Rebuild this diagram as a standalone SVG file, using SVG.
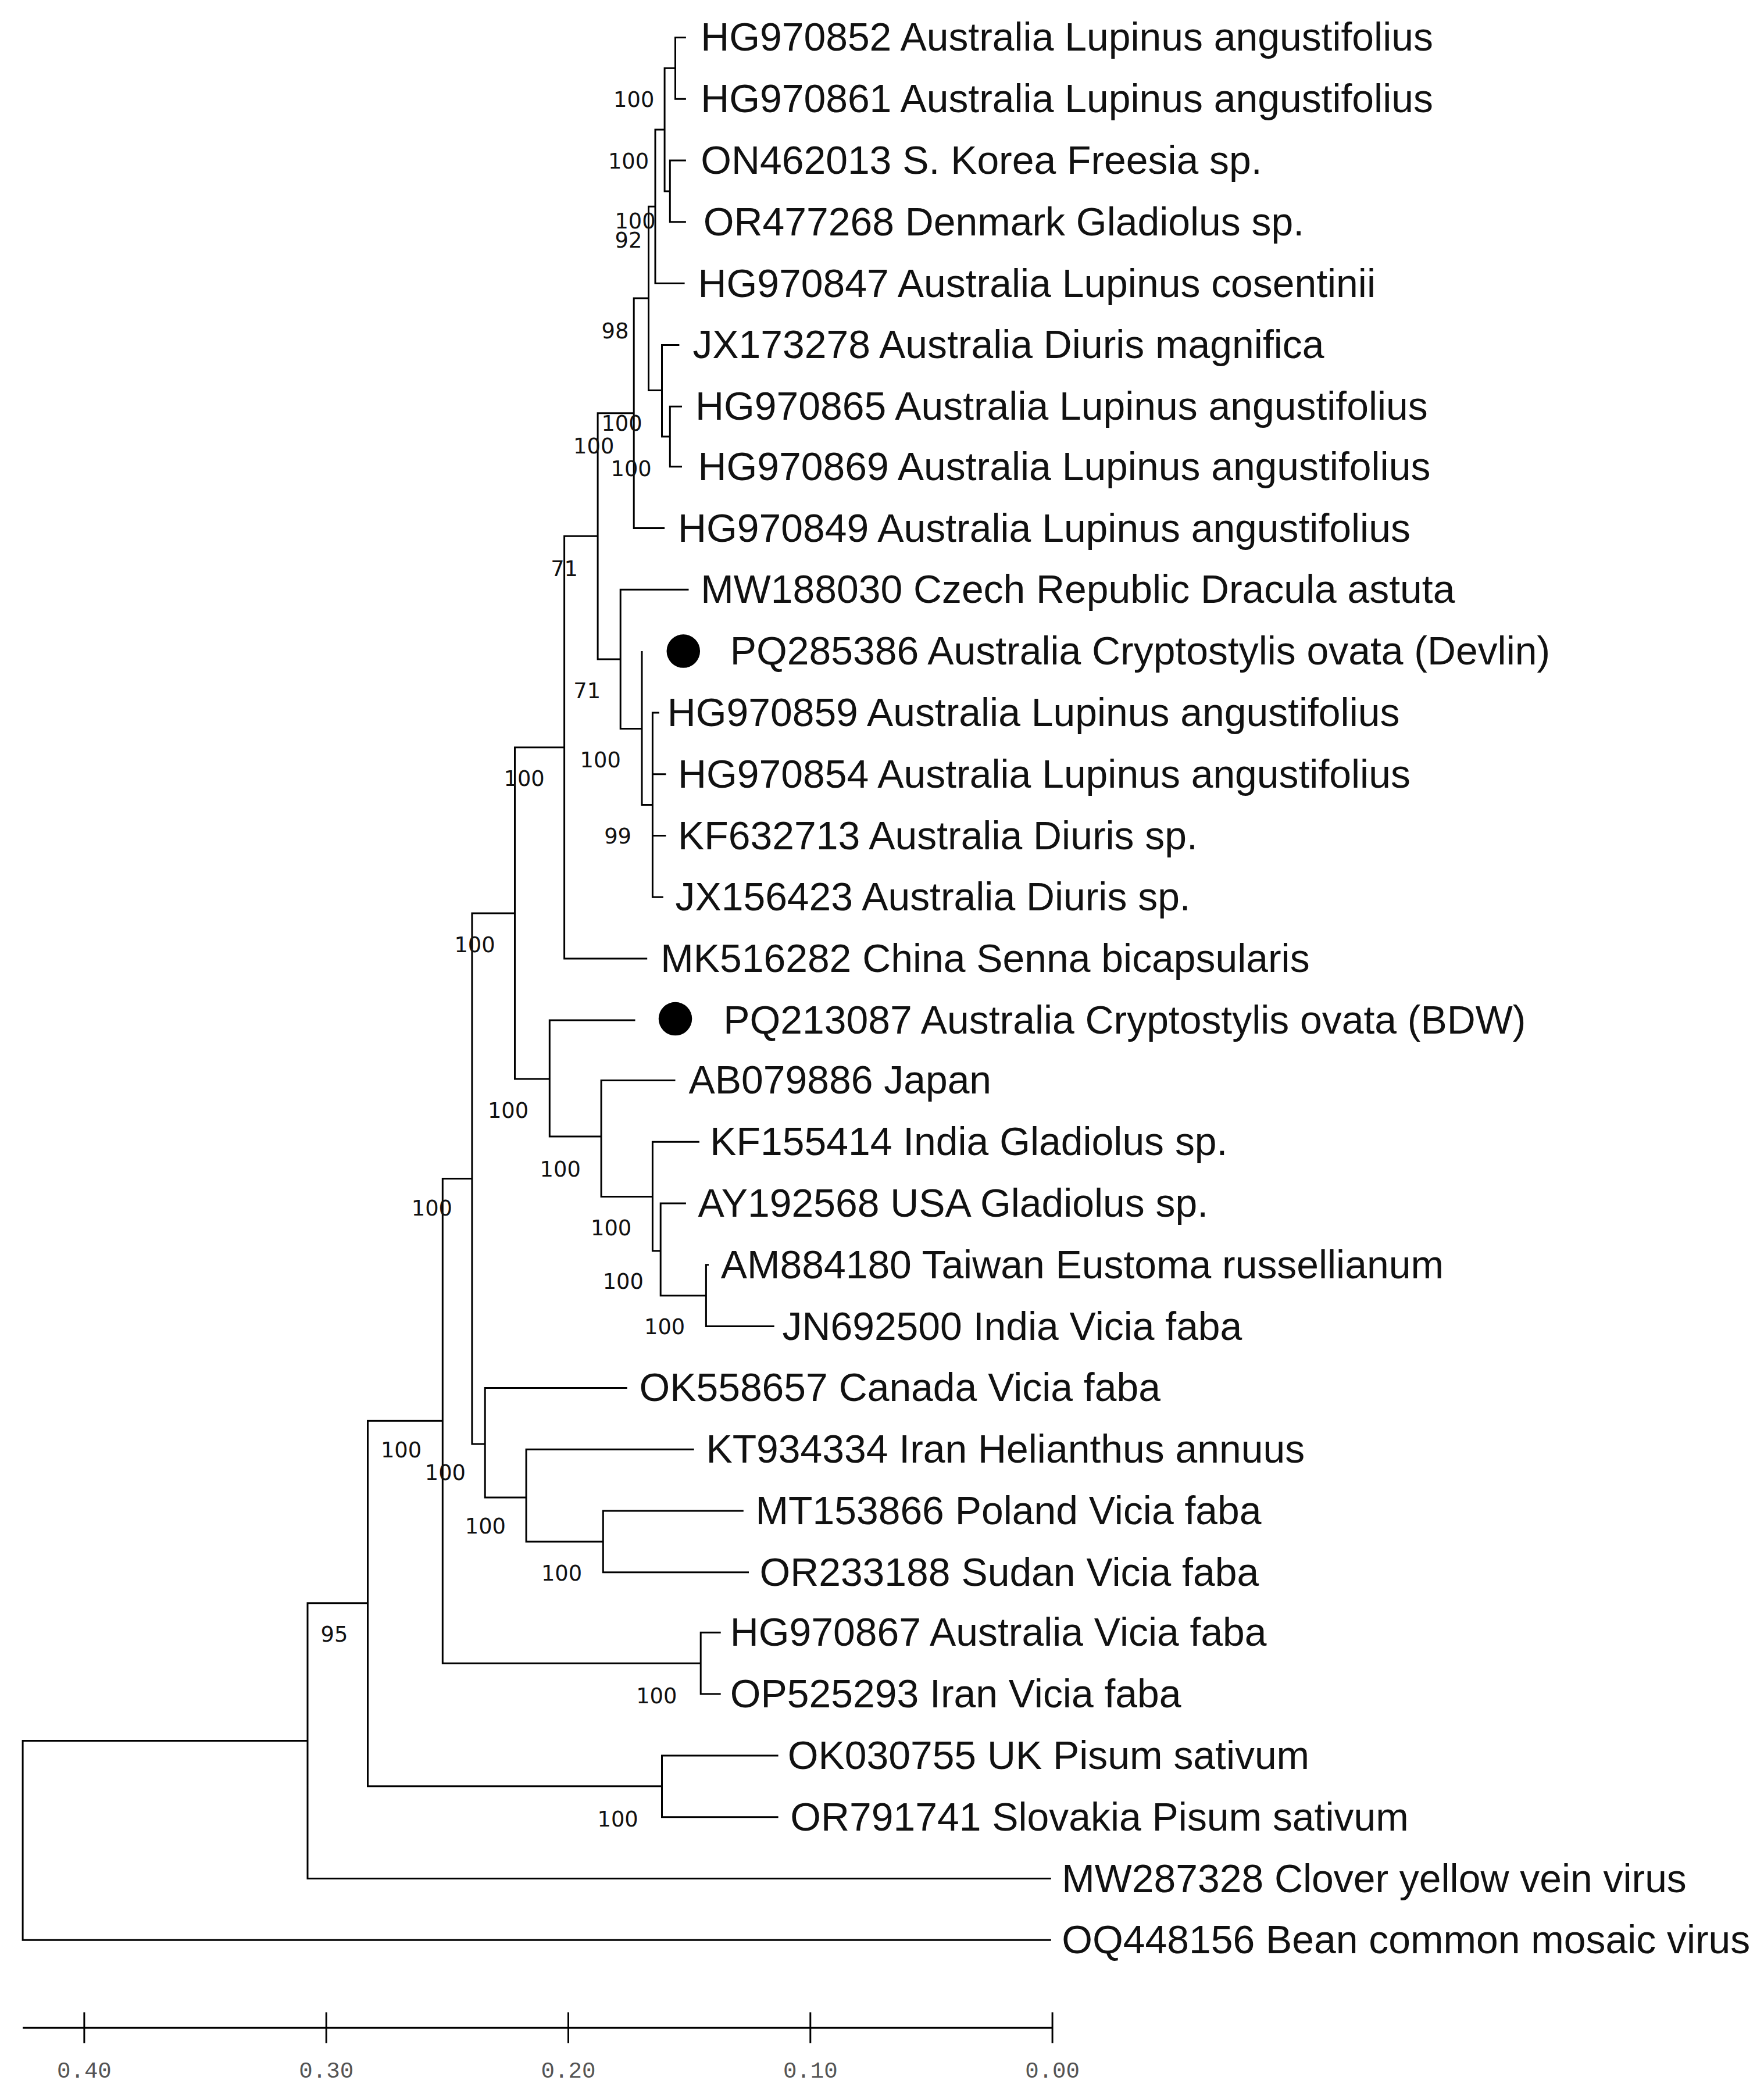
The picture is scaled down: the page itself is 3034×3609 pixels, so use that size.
<svg xmlns="http://www.w3.org/2000/svg" width="3034" height="3609" viewBox="0 0 3034 3609">
<style>
.e{fill:none;stroke:#000;stroke-width:1.3}
.t{font-family:"Liberation Sans",Arial,sans-serif;font-size:29.5px;fill:#111}
.b{font-family:"DejaVu Sans",sans-serif;font-size:16px;fill:#111;text-anchor:middle}
.s{font-family:"Liberation Mono","DejaVu Sans Mono",monospace;font-size:17px;fill:#555;text-anchor:middle}
</style>
<rect width="3034" height="3609" fill="#fff"/>
<g transform="scale(2.3)">
<g id="connectors" class="e">
<path d="M513 28H505V74H513M513 120H501V166H513M505 51H497V143H501M497 97H490V212H512"/>
<path d="M510 304H501V349H510M508 258H495V326.5H501M490 154.5H485V292H495M485 223H474V395H497"/>
<path d="M493 533H488V671H496M488 579H498M488 625H498M480 487V602H488M515 441H464V545H480"/>
<path d="M474 309H447V493H464M447 401H422V717H484M422 559H385V807H411"/>
<path d="M475 763H411V850H449.6M505 808H449.6V895H488M523 854H488V935.5H494M513 900H494V969H528M530 946H528V992H579"/>
<path d="M385 683H353V1080H362.7M469 1038H362.7V1120H393.5M519 1084H393.5V1153H451M556 1130H451V1176H560"/>
<path d="M353 881.5H331V1244H524M539 1221H524V1267H539M582 1313H495V1359H582"/>
<path d="M331 1062.7H275V1336H495M275 1199H230V1405H786M230 1302H17V1451H786"/>
<path d="M17 1516.6H787M63 1505V1528M244 1505V1528M425 1505V1528M606 1505V1528M787 1505V1528"/>
</g>
<g id="leaves" class="t">
<text x="524" y="38">HG970852 Australia Lupinus angustifolius</text>
<text x="524" y="84">HG970861 Australia Lupinus angustifolius</text>
<text x="524" y="130">ON462013 S. Korea Freesia sp.</text>
<text x="526" y="176">OR477268 Denmark Gladiolus sp.</text>
<text x="522" y="222">HG970847 Australia Lupinus cosentinii</text>
<text x="518" y="268">JX173278 Australia Diuris magnifica</text>
<text x="520" y="314">HG970865 Australia Lupinus angustifolius</text>
<text x="522" y="359">HG970869 Australia Lupinus angustifolius</text>
<text x="507" y="405">HG970849 Australia Lupinus angustifolius</text>
<text x="524" y="451">MW188030 Czech Republic Dracula astuta</text>
<text x="546" y="497">PQ285386 Australia Cryptostylis ovata (Devlin)</text>
<text x="499" y="543">HG970859 Australia Lupinus angustifolius</text>
<text x="507" y="589">HG970854 Australia Lupinus angustifolius</text>
<text x="507" y="635">KF632713 Australia Diuris sp.</text>
<text x="505" y="681">JX156423 Australia Diuris sp.</text>
<text x="494" y="727">MK516282 China Senna bicapsularis</text>
<text x="541" y="773">PQ213087 Australia Cryptostylis ovata (BDW)</text>
<text x="515" y="818">AB079886 Japan</text>
<text x="531" y="864">KF155414 India Gladiolus sp.</text>
<text x="522" y="910">AY192568 USA Gladiolus sp.</text>
<text x="539" y="956">AM884180 Taiwan Eustoma russellianum</text>
<text x="585" y="1002">JN692500 India Vicia faba</text>
<text x="478" y="1048">OK558657 Canada Vicia faba</text>
<text x="528" y="1094">KT934334 Iran Helianthus annuus</text>
<text x="565" y="1140">MT153866 Poland Vicia faba</text>
<text x="568" y="1186">OR233188 Sudan Vicia faba</text>
<text x="546" y="1231">HG970867 Australia Vicia faba</text>
<text x="546" y="1277">OP525293 Iran Vicia faba</text>
<text x="589" y="1323">OK030755 UK Pisum sativum</text>
<text x="591" y="1369">OR791741 Slovakia Pisum sativum</text>
<text x="794" y="1415">MW287328 Clover yellow vein virus</text>
<text x="794" y="1461">OQ448156 Bean common mosaic virus</text>
</g>
<g id="markers">
<circle cx="511" cy="487" r="12.5"/>
<circle cx="505" cy="762" r="12.5"/>
</g>
<g id="bootstrap" class="b">
<text x="474" y="80">100</text>
<text x="470" y="126">100</text>
<text x="475" y="171">100</text>
<text x="470" y="185">92</text>
<text x="460" y="253">98</text>
<text x="465" y="322">100</text>
<text x="444" y="339">100</text>
<text x="472" y="356">100</text>
<text x="422" y="431">71</text>
<text x="439" y="522">71</text>
<text x="449" y="574">100</text>
<text x="462" y="631">99</text>
<text x="392" y="588">100</text>
<text x="355" y="712">100</text>
<text x="380" y="836">100</text>
<text x="419" y="880">100</text>
<text x="457" y="924">100</text>
<text x="466" y="964">100</text>
<text x="497" y="998">100</text>
<text x="323" y="909">100</text>
<text x="300" y="1090">100</text>
<text x="333" y="1107">100</text>
<text x="363" y="1147">100</text>
<text x="420" y="1182">100</text>
<text x="250" y="1228">95</text>
<text x="491" y="1274">100</text>
<text x="462" y="1366">100</text>
</g>
<g id="scale" class="s">
<text x="63" y="1554">0.40</text>
<text x="244" y="1554">0.30</text>
<text x="425" y="1554">0.20</text>
<text x="606" y="1554">0.10</text>
<text x="787" y="1554">0.00</text>
</g>
</g>
</svg>
